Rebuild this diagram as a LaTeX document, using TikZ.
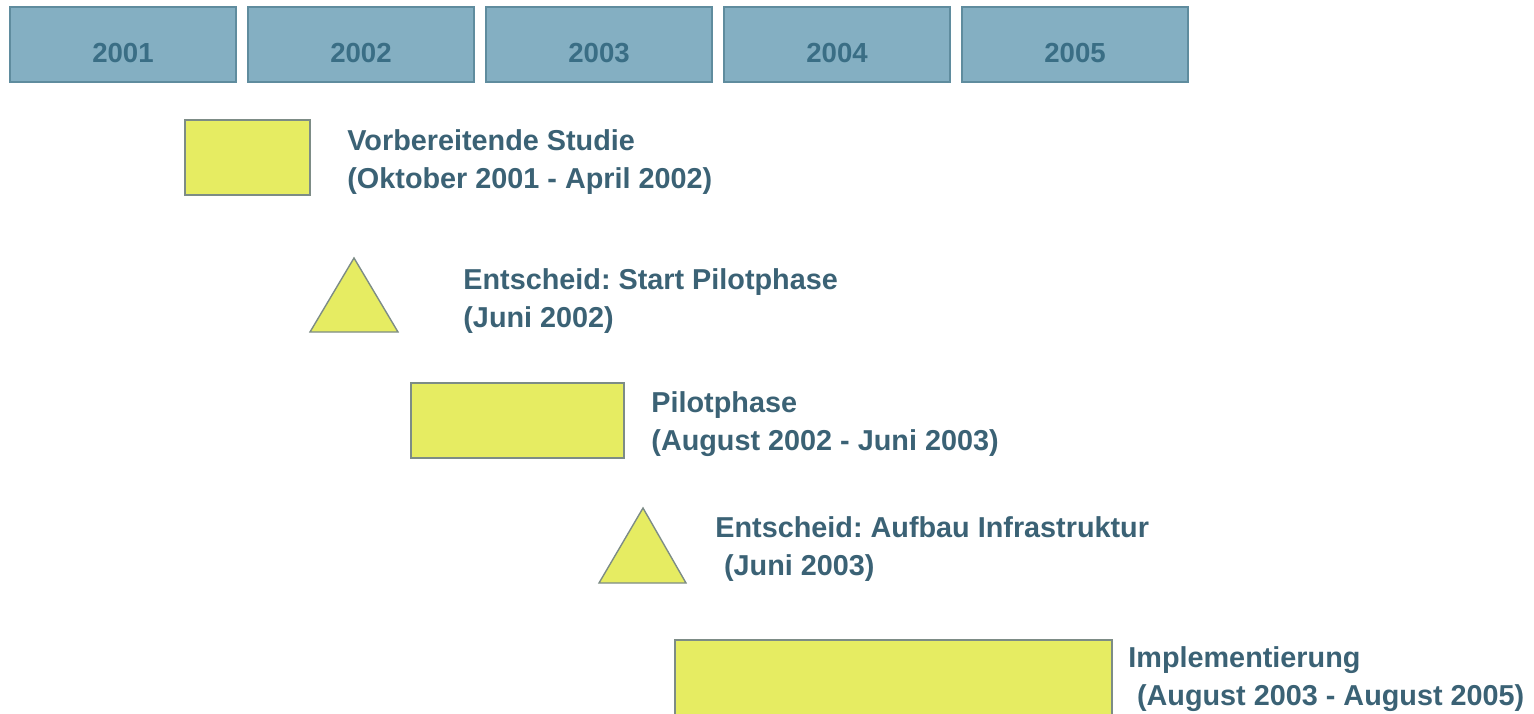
\documentclass[tikz,border=0pt]{standalone}
\usepackage{fontspec}
\setmainfont{Liberation Sans}
\frenchspacing
\definecolor{yearfill}{HTML}{84AFC2}
\definecolor{yearline}{HTML}{5F8C9E}
\definecolor{yeartext}{HTML}{3A6E85}
\definecolor{phasefill}{HTML}{E6EC62}
\definecolor{phaseline}{HTML}{7D8C86}
\definecolor{labeltext}{HTML}{3B6275}

\begin{document}
\begin{tikzpicture}[
    x=0.5pt, y=-0.5pt,
    year/.style={rectangle,draw=yearline,fill=yearfill,line width=0.7pt,
        minimum width=113pt,minimum height=37.5pt,inner sep=0pt,
        text height=17.7pt,text depth=0pt,
        text=yeartext,font=\bfseries\fontsize{13.8}{16}\selectfont},
    phase/.style={draw=phaseline,fill=phasefill,line width=0.7pt},
    label/.style={anchor=west,align=left,inner sep=0pt,text=labeltext,
        font=\bfseries\fontsize{14.4}{19}\selectfont}
]
\useasboundingbox (0,0) rectangle (1534,713);
\begin{scope}
\clip (0,0) rectangle (1534,713);

\foreach \yr [count=\i from 0] in {2001,2002,2003,2004,2005}
    \node[year] (y\yr) at (123+238*\i,44.5) {\yr};

\draw[phase] (185,120) rectangle (310,195);
\node[label] (studie) at (347,162) {Vorbereitende Studie\\(Oktober 2001 - April 2002)};

\draw[phase] (354,258) -- (310,332) -- (398,332) -- cycle;
\node[label] (start) at (463,301) {Entscheid: Start Pilotphase\\(Juni 2002)};

\draw[phase] (411,383) rectangle (624,458);
\node[label] (pilot) at (651,424) {Pilotphase\\(August 2002 - Juni 2003)};

\draw[phase] (643,508) -- (599,583) -- (686,583) -- cycle;
\node[label] (aufbau) at (715,549) {Entscheid: Aufbau Infrastruktur\\\hspace{0.3em}(Juni 2003)};

\draw[phase] (675,640) rectangle (1112,760);
\node[label] (impl) at (1128,679) {Implementierung\\\hspace{0.3em}(August 2003 - August 2005)};
\end{scope}
\end{tikzpicture}
\end{document}
